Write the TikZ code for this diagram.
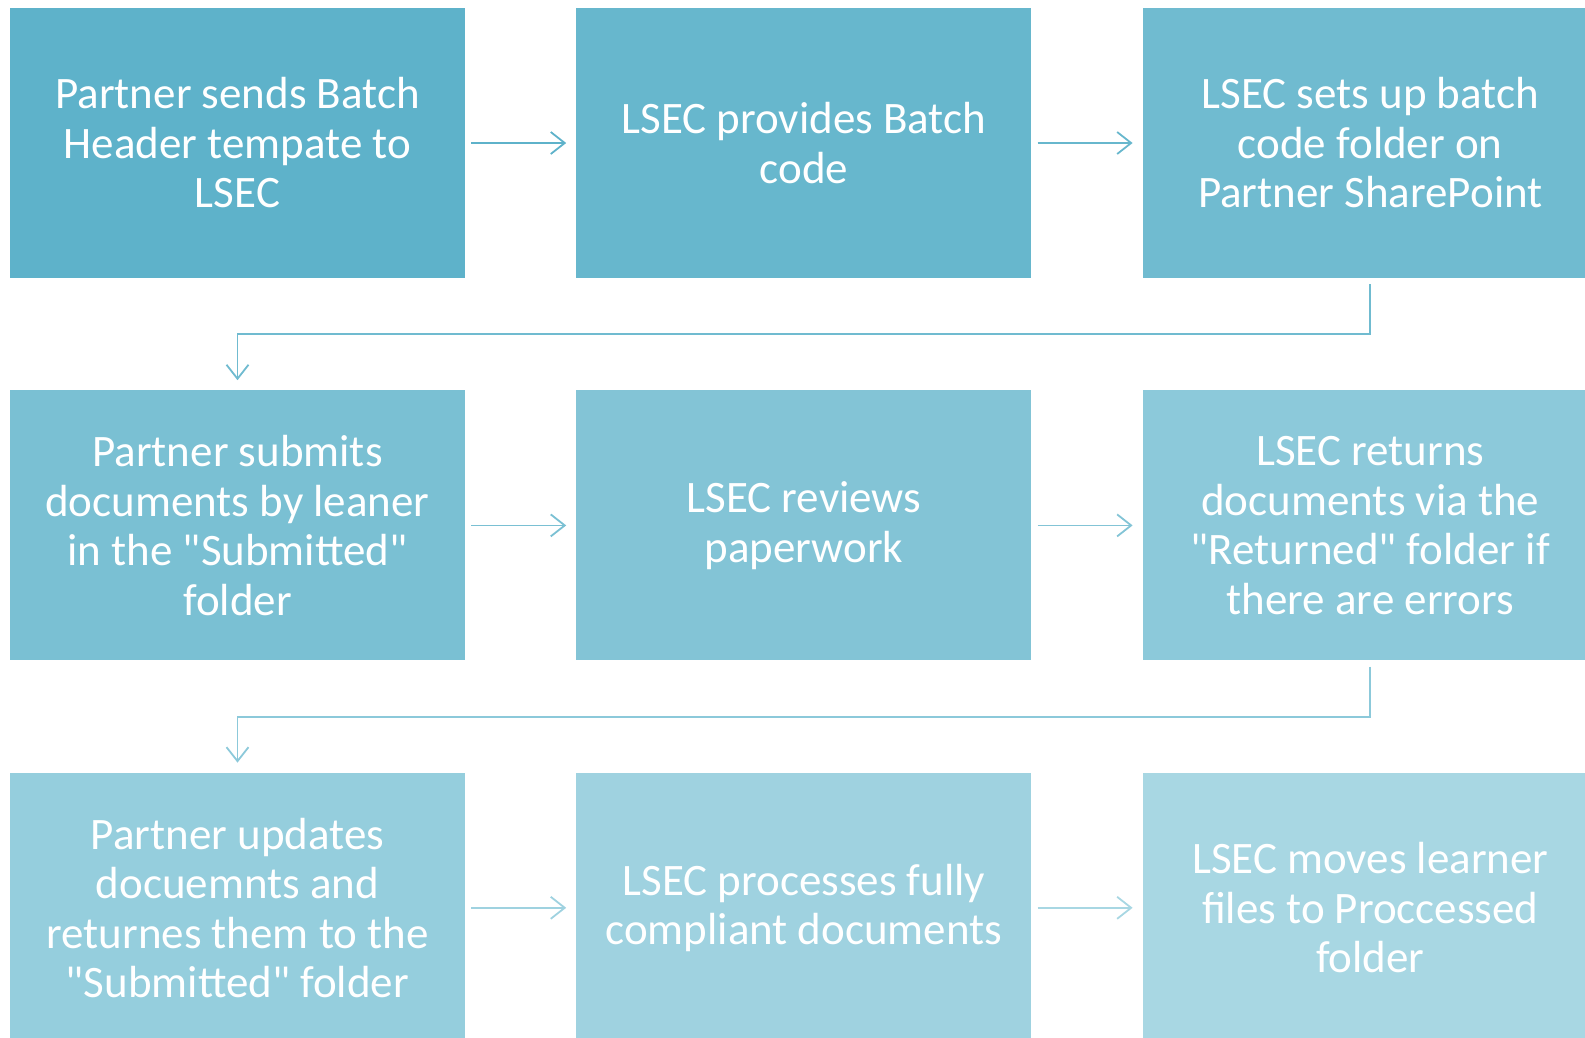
\documentclass[tikz,border=0pt]{standalone}
\usepackage{fontspec}
\setmainfont{Carlito}[Ligatures=TeXOff]
\usetikzlibrary{positioning, arrows.meta}

\definecolor{stepc1}{RGB}{94,178,202}
\definecolor{stepc2}{RGB}{103,183,205}
\definecolor{stepc3}{RGB}{112,187,208}
\definecolor{stepc4}{RGB}{122,192,211}
\definecolor{stepc5}{RGB}{131,196,214}
\definecolor{stepc6}{RGB}{140,201,218}
\definecolor{stepc7}{RGB}{149,206,221}
\definecolor{stepc8}{RGB}{159,210,224}
\definecolor{stepc9}{RGB}{168,215,227}

\begin{document}
\begin{tikzpicture}[
  x=1pt, y=1pt,
  node distance=112pt and 111pt,
  stepbox/.style={rectangle, minimum width=455pt, minimum height=270pt, inner sep=0pt,
    align=center, text=white, font=\fontsize{45pt}{49.5pt}\selectfont},
  flow/.style={line width=1.8pt, -{Straight Barb[length=14pt, width=22pt, line width=1.8pt]}}
]
\useasboundingbox (0,0) rectangle (1585,-1037);
\clip (0,0) rectangle (1585,-1037);

% first row
\node[stepbox, fill=stepc1] (s1) at (237.5,-143) {Partner sends Batch\\Header tempate to\\LSEC};
\node[stepbox, fill=stepc2, right=of s1] (s2) {LSEC provides Batch\\code};
\node[stepbox, fill=stepc3, right=of s2] (s3) {LSEC sets up batch\\code folder on\\Partner SharePoint};

% second row
\node[stepbox, fill=stepc4, below=of s1] (s4) {Partner submits\\documents by leaner\\in the "Submitted"\\folder};
\node[stepbox, fill=stepc5, right=of s4] (s5) {LSEC reviews\\paperwork};
\node[stepbox, fill=stepc6, right=of s5] (s6) {LSEC returns\\documents via the\\"Returned" folder if\\there are errors};

% third row
\node[stepbox, fill=stepc7, below=of s4] (s7) {Partner updates\\docuemnts and\\returnes them to the\\"Submitted" folder};
\node[stepbox, fill=stepc8, right=of s7] (s8) {LSEC processes fully\\compliant documents};
\node[stepbox, fill=stepc9, right=of s8] (s9) {LSEC moves learner\\files to Proccessed\\folder};

% arrows
\draw[flow, stepc1] ([xshift=6pt]s1.east) -- ([xshift=-10pt]s2.west);
\draw[flow, stepc2] ([xshift=6pt]s2.east) -- ([xshift=-10pt]s3.west);
\draw[flow, stepc3] ([yshift=-6pt]s3.south) -- ++(0,-50) -| ([yshift=10pt]s4.north);
\draw[flow, stepc4] ([xshift=6pt]s4.east) -- ([xshift=-10pt]s5.west);
\draw[flow, stepc5] ([xshift=6pt]s5.east) -- ([xshift=-10pt]s6.west);
\draw[flow, stepc6] ([yshift=-6pt]s6.south) -- ++(0,-50) -| ([yshift=10pt]s7.north);
\draw[flow, stepc8] ([xshift=6pt]s7.east) -- ([xshift=-10pt]s8.west);
\draw[flow, stepc9] ([xshift=6pt]s8.east) -- ([xshift=-10pt]s9.west);
\end{tikzpicture}
\end{document}
